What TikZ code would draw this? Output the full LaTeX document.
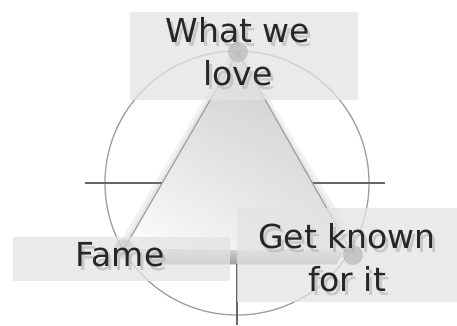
\documentclass[tikz,border=0pt]{standalone}
\usepackage{fontspec}
\setmainfont{DejaVu Sans}
\usetikzlibrary{shadings}
\begin{document}
\begin{tikzpicture}[x=1pt,y=-1pt,
  ring/.style={draw=gray!75,line width=1.3pt},
  axisline/.style={draw=black!60,line width=1.4pt},
  labelbox/.style={fill=gray!22,opacity=0.75},
  dot/.style={circle,fill=gray!55,fill opacity=0.7,minimum size=20pt,inner sep=0pt},
  lbl/.style={font=\fontsize{33}{43}\selectfont,align=center,text=black!85,inner sep=0pt},
  lblshadow/.style={font=\fontsize{33}{43}\selectfont,align=center,text=gray!60,inner sep=0pt,opacity=0.6}]
\useasboundingbox[fill=white] (0,0) rectangle (457,325);
% geometry
\coordinate (c) at (237,183);
\coordinate (apex) at (238,52);
\coordinate (bl) at (124,249);
\coordinate (br) at (351,251);
\coordinate (hl) at (85,183);
\coordinate (hr) at (385,183);
\coordinate (vb) at (237,325);
% circle and axes
\draw[ring] (c) circle[radius=132pt];
\draw[axisline] (hl) -- (hr);
\draw[axisline] (c) -- (vb);
% soft shadow round the triangle
\fill[gray,opacity=0.10] (236,44) -- (366,258) -- (112,256) -- cycle;
\fill[gray,opacity=0.10] (237,48) -- (358,255) -- (118,253) -- cycle;
% triangle bottom face (3D edge)
\fill[top color=gray!35,bottom color=gray!75]
  (140,249) -- (343,251) -- (336,264) -- (148,264) -- cycle;
% triangle top face
\shade[upper left=gray!32,upper right=gray!42,lower left=white,lower right=gray!22]
  (apex) -- (br) -- (bl) -- cycle;
\draw[draw=gray!75,line width=1.2pt] (apex) -- (bl);
\draw[draw=gray!75,line width=1.2pt] (apex) -- (br);
% label boxes
\fill[labelbox] (130,12) rectangle (358,100);
\fill[labelbox] (237,208) rectangle (457,302);
\fill[labelbox] (13,237) rectangle (230,281);
% vertex dots
\node[dot] (dtop) at (apex) {};
\node[dot] (dbr) at (353,255) {};
\node[dot,fill opacity=0.35] (dbl) at (bl) {};
% labels
\node[lblshadow] (loveshadow) at (241,56) {What we\\love};
\node[lblshadow] (knownshadow) at (350,262) {Get known\\for it};
\node[lblshadow] (fameshadow) at (123,259) {Fame};
\node[lbl] (love) at (238,52) {What we\\love};
\node[lbl] (known) at (347,258) {Get known\\for it};
\node[lbl] (fame) at (120,255) {Fame};
\end{tikzpicture}
\end{document}
